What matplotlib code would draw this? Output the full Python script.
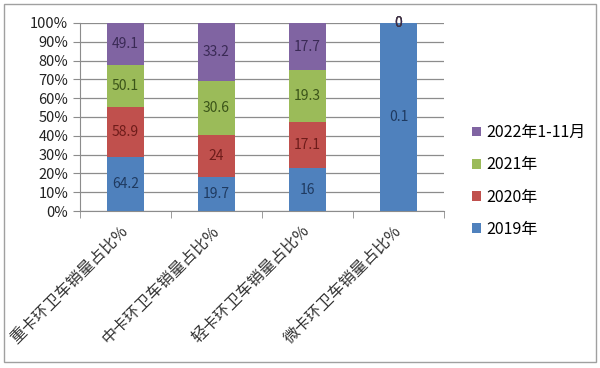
import matplotlib
matplotlib.use("Agg")
import matplotlib.pyplot as plt
from matplotlib.patches import Rectangle
from matplotlib.ticker import PercentFormatter
import numpy as np

# 数据
categories = ["重卡环卫车销量占比%", "中卡环卫车销量占比%", "轻卡环卫车销量占比%", "微卡环卫车销量占比%"]
series_names = ["2019年", "2020年", "2021年", "2022年1-11月"]
v2019 = [64.2, 19.7, 16, 0.1]
v2020 = [58.9, 24, 17.1, 0]
v2021 = [50.1, 30.6, 19.3, 0]
v2022 = [49.1, 33.2, 17.7, 0]

colors = ["#4F81BD", "#C0504D", "#9BBB59", "#8064A2"]
label_colors = ["#1F3A60", "#6E1C1A", "#3B5419", "#3A2A55"]

plt.rcParams["font.family"] = ["Noto Sans CJK SC", "DejaVu Sans"]
plt.rcParams["axes.unicode_minus"] = False

data = np.array([v2019, v2020, v2021, v2022], dtype=float)
totals = data.sum(axis=0)
pct = data / totals * 100

fig = plt.figure(figsize=(6, 3.68), dpi=100)
ax = fig.add_axes([80 / 600, 1 - 211 / 368, 364 / 600, 188 / 368])

x = np.arange(len(categories))
bottom = np.zeros(len(categories))
for i, name in enumerate(series_names):
    ax.bar(x, pct[i], 0.4, bottom=bottom, color=colors[i], label=name, zorder=3)
    # 数据标签
    for j in range(len(categories)):
        ax.text(x[j], bottom[j] + pct[i, j] / 2, f"{data[i, j]:g}", ha="center",
                va="center", fontsize=10, color=label_colors[i], zorder=4)
    bottom += pct[i]

ax.set_xlim(-0.5, len(categories) - 0.5)
ax.set_ylim(0, 100)
ax.set_yticks(np.arange(0, 101, 10))
ax.yaxis.set_major_formatter(PercentFormatter(decimals=0))
ax.grid(axis="y", color="#8C8C8C", linewidth=0.9, zorder=0)

ax.set_xticks(x)
ax.set_xticklabels(categories, rotation=45, ha="right", va="center",
                   rotation_mode="anchor", fontsize=11.5, color="#333333")
ax.set_xticks(np.arange(-0.5, len(categories), 1), minor=True)
ax.tick_params(axis="x", which="major", length=0, pad=13)
ax.tick_params(axis="x", which="minor", length=5, color="#8C8C8C", direction="out")
ax.tick_params(axis="y", length=5, color="#8C8C8C", labelsize=10.5, labelcolor="#222222")

for s in ["top", "right"]:
    ax.spines[s].set_visible(False)
for s in ["left", "bottom"]:
    ax.spines[s].set_color("#8C8C8C")

# 图例（倒序）
handles, labels = ax.get_legend_handles_labels()
fig.legend(handles[::-1], labels[::-1], loc="center left",
           bbox_to_anchor=(458 / 600, 1 - 181 / 368), frameon=False,
           fontsize=11.5, handlelength=0.55, handleheight=0.55, handletextpad=0.3,
           labelspacing=0.95)

# 外框
fig.patches.append(Rectangle((4 / 600, 6 / 368), 592 / 600, 358 / 368,
                             transform=fig.transFigure, fill=False,
                             edgecolor="#A0A0A0", linewidth=1))

fig.savefig("out.png", dpi=100)
